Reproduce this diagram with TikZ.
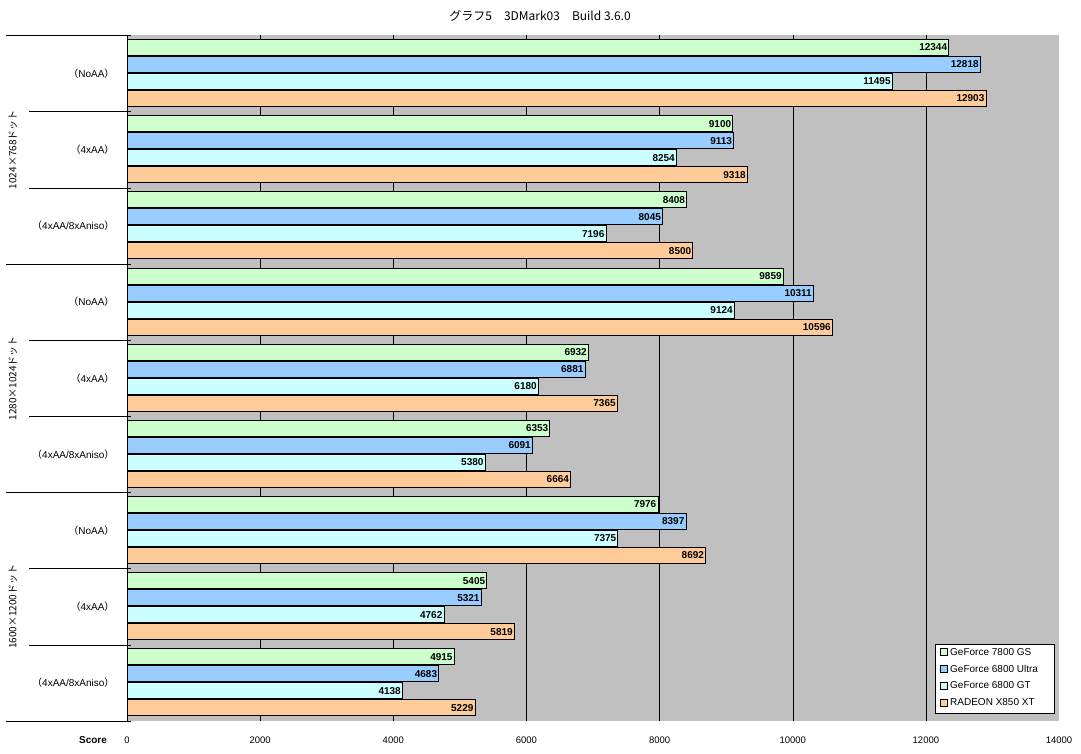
\documentclass[tikz,border=0pt]{standalone}
\usepackage{fontspec}
\setmainfont{Liberation Sans}
\newfontfamily\cjk{Noto Sans CJK JP}
\definecolor{cA}{HTML}{CCFFCC}
\definecolor{cB}{HTML}{99CCFF}
\definecolor{cC}{HTML}{CCFFFF}
\definecolor{cD}{HTML}{FFCC99}
\definecolor{pgray}{HTML}{C0C0C0}
\begin{document}
\begin{tikzpicture}[x=1pt,y=-1pt,
  bar/.style={draw=black,line width=1pt},
  val/.style={font=\bfseries\fontsize{10}{11}\selectfont,anchor=east,inner sep=1.5pt},
  lab/.style={font=\fontsize{10}{11}\selectfont},
  tick/.style={font=\fontsize{9.5}{10}\selectfont}]
\useasboundingbox (0,0) rectangle (1081,754);
\fill[white] (0,0) rectangle (1081,754);
\fill[pgray] (127,35.5) rectangle (1059,721);
\foreach \t in {2000,4000,...,12000} \draw[black] ({127+\t*0.06657},35.5) -- ({127+\t*0.06657},721);
\draw[black] (127,35.5) -- (127,721);
\foreach \vals [count=\g] in {
 {12344,12818,11495,12903},{9100,9113,8254,9318},{8408,8045,7196,8500},
 {9859,10311,9124,10596},{6932,6881,6180,7365},{6353,6091,5380,6664},
 {7976,8397,7375,8692},{5405,5321,4762,5819},{4915,4683,4138,5229}}{
  \pgfmathsetmacro\gt{35.5+(\g-1)*76.17}
  \foreach \v [count=\b] in \vals {
    \pgfmathsetmacro\bt{\gt+4+(\b-1)*17}
    \pgfmathsetmacro\xe{127+\v*0.06657}
    \pgfmathsetmacro\cl{{"cA","cB","cC","cD"}[\b-1]}
    \draw[bar,fill=\cl] (127,\bt) rectangle (\xe,\bt+16);
    \node[val] (v\g\b) at (\xe,\bt+8) {\v};
  }
}
% left labels and separators
\foreach \g/\l in {1/NoAA,2/4xAA,3/{4xAA/8xAniso},4/NoAA,5/4xAA,6/{4xAA/8xAniso},7/NoAA,8/4xAA,9/{4xAA/8xAniso}}{
  \pgfmathsetmacro\gc{35.5+(\g-0.5)*76.17}
  \node[lab,anchor=east] (g\g) at (118,\gc) {{\cjk（}\l{\cjk）}};
}
\foreach \k in {0,3,6,9} \draw (6,{35.5+\k*76.17}) -- (131,{35.5+\k*76.17});
\foreach \k in {1,2,4,5,7,8} \draw (29,{35.5+\k*76.17}) -- (131,{35.5+\k*76.17});
\foreach \r/\t in {1/1024×768ドット,2/1280×1024ドット,3/1600×1200ドット}
  \node[lab,rotate=90] (r\r) at (13,{35.5+(\r-0.5)*228.5}) {\cjk\t};
% axis labels
\node[font=\bfseries\fontsize{10}{11}\selectfont] (score) at (93,740) {Score};
\foreach \t in {0,2000,...,14000} \node[tick] (t\t) at ({127+\t*0.06657},740) {\t};
\node[font=\fontsize{12}{13}\selectfont] (title) at (540,16) {\cjk グラフ5　3DMark03　Build 3.6.0};
% legend
\draw[fill=white] (935,644) rectangle (1054,713);
\foreach \c/\t [count=\i] in {cA/GeForce 7800 GS,cB/GeForce 6800 Ultra,cC/GeForce 6800 GT,cD/RADEON X850 XT}{
  \draw[fill=\c] (940,{644+\i*16.8-12.5}) rectangle +(7,7);
  \node[lab,anchor=west,inner sep=0pt] (l\i) at (950,{644+\i*16.8-9}) {\t};
}
\end{tikzpicture}
\end{document}
